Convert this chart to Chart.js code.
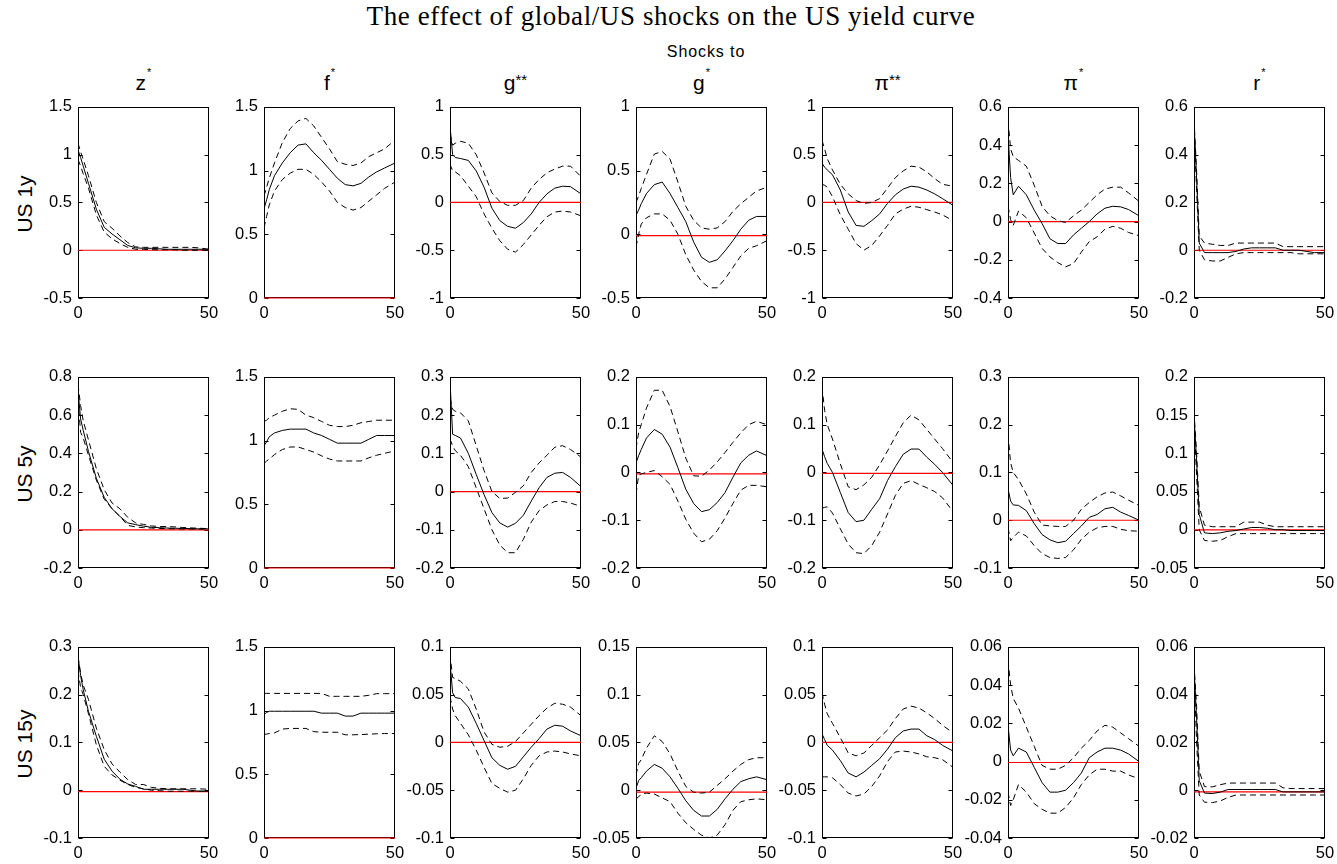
<!DOCTYPE html>
<html>
<head>
<meta charset="utf-8">
<script src="https://cdn.jsdelivr.net/npm/chart.js@4.4.0/dist/chart.umd.min.js"></script>
<style>
  body { margin: 0; background: #fff; width: 1337px; height: 864px; position: relative; overflow: hidden;
         font-family: "Liberation Sans", Arial, sans-serif; color: #000; }
  canvas { position: absolute; }
  .txt { position: absolute; white-space: nowrap; line-height: 1; }
</style>
</head>
<body>
<script>
// horizon (periods after the shock) at which values were read
const horizon = [0, 1, 2, 4, 7, 10, 13, 16, 19, 22, 25, 28, 31, 34, 37, 40, 43, 46, 50];

const shockNames = ['z', 'f', 'g', 'g', 'π', 'π', 'r'];
const shockStars = ['*', '*', '**', '*', '**', '*', '*'];
const maturityNames = ['US 1y', 'US 5y', 'US 15y'];
const mainTitle = 'The effect of global/US shocks on the US yield curve';
const subTitle = 'Shocks to';

// ---- US 1y ----
const mean1y = [
  [1.05, 0.97, 0.88, 0.70, 0.43, 0.24, 0.17, 0.11, 0.05, 0.025, 0.02, 0.02, 0.015, 0.01, 0.01, 0.01, 0.01, 0.01, 0.01],
  [0.70, 0.77, 0.85, 0.96, 1.06, 1.14, 1.20, 1.21, 1.14, 1.08, 1.01, 0.94, 0.89, 0.88, 0.90, 0.95, 0.99, 1.02, 1.06],
  [0.80, 0.50, 0.47, 0.46, 0.44, 0.33, 0.16, -0.06, -0.19, -0.25, -0.27, -0.21, -0.12, 0.00, 0.09, 0.15, 0.17, 0.165, 0.09],
  [0.15, 0.19, 0.24, 0.32, 0.39, 0.41, 0.32, 0.21, 0.10, -0.06, -0.18, -0.22, -0.20, -0.13, -0.05, 0.04, 0.11, 0.14, 0.14],
  [0.41, 0.37, 0.34, 0.29, 0.13, -0.10, -0.24, -0.25, -0.19, -0.12, -0.01, 0.08, 0.14, 0.17, 0.16, 0.13, 0.09, 0.04, -0.03],
  [0.46, 0.23, 0.14, 0.185, 0.14, 0.06, -0.01, -0.09, -0.115, -0.115, -0.07, -0.035, 0.0, 0.04, 0.07, 0.08, 0.077, 0.063, 0.03],
  [0.54, 0.30, 0.03, -0.01, -0.01, -0.01, -0.01, -0.005, 0.005, 0.01, 0.01, 0.01, 0.01, 0.0, 0.0, 0.0, -0.005, -0.01, -0.01]
];
const upper1y = [
  [1.12, 1.03, 0.95, 0.78, 0.50, 0.30, 0.23, 0.15, 0.08, 0.035, 0.03, 0.03, 0.03, 0.03, 0.03, 0.03, 0.03, 0.025, 0.01],
  [0.80, 0.87, 0.94, 1.06, 1.22, 1.33, 1.39, 1.41, 1.35, 1.26, 1.17, 1.07, 1.05, 1.04, 1.06, 1.11, 1.14, 1.17, 1.24],
  [0.72, 0.60, 0.62, 0.64, 0.62, 0.50, 0.31, 0.10, 0.01, -0.03, -0.03, 0.02, 0.15, 0.24, 0.31, 0.35, 0.38, 0.38, 0.27],
  [0.25, 0.30, 0.36, 0.47, 0.63, 0.65, 0.59, 0.41, 0.22, 0.11, 0.05, 0.04, 0.05, 0.10, 0.18, 0.24, 0.29, 0.34, 0.37],
  [0.65, 0.56, 0.46, 0.34, 0.19, 0.09, 0.02, -0.01, 0.0, 0.04, 0.15, 0.26, 0.33, 0.38, 0.37, 0.32, 0.25, 0.19, 0.17],
  [0.53, 0.38, 0.34, 0.32, 0.29, 0.19, 0.08, 0.03, 0.005, -0.005, 0.03, 0.06, 0.10, 0.14, 0.17, 0.18, 0.18, 0.15, 0.106],
  [0.55, 0.33, 0.06, 0.03, 0.025, 0.02, 0.02, 0.03, 0.03, 0.03, 0.03, 0.03, 0.03, 0.015, 0.015, 0.015, 0.015, 0.015, 0.015]
];
const lower1y = [
  [0.95, 0.88, 0.80, 0.65, 0.37, 0.19, 0.12, 0.07, 0.03, 0.01, 0.01, 0.005, 0.005, 0.005, 0.005, 0.0, 0.0, 0.0, 0.0],
  [0.55, 0.64, 0.73, 0.84, 0.93, 0.98, 1.01, 1.01, 0.97, 0.91, 0.84, 0.75, 0.71, 0.69, 0.71, 0.76, 0.81, 0.86, 0.91],
  [0.40, 0.33, 0.32, 0.28, 0.17, 0.06, -0.12, -0.27, -0.40, -0.49, -0.52, -0.44, -0.34, -0.24, -0.15, -0.10, -0.09, -0.10, -0.14],
  [-0.10, 0.0, 0.08, 0.13, 0.16, 0.16, 0.11, 0.0, -0.16, -0.28, -0.37, -0.42, -0.42, -0.35, -0.26, -0.17, -0.11, -0.09, -0.05],
  [0.19, 0.18, 0.16, 0.06, -0.13, -0.28, -0.43, -0.50, -0.45, -0.35, -0.24, -0.12, -0.07, -0.04, -0.05, -0.075, -0.10, -0.13, -0.19],
  [0.08, 0.01, -0.02, 0.055, 0.02, -0.06, -0.14, -0.185, -0.215, -0.237, -0.22, -0.16, -0.105, -0.08, -0.04, -0.025, -0.035, -0.057, -0.074],
  [0.52, 0.25, 0.0, -0.04, -0.045, -0.045, -0.03, -0.015, -0.01, -0.01, -0.01, -0.01, -0.01, -0.01, -0.01, -0.015, -0.015, -0.015, -0.015]
];

// ---- US 5y ----
const mean5y = [
  [0.73, 0.58, 0.52, 0.41, 0.27, 0.17, 0.11, 0.07, 0.036, 0.027, 0.019, 0.013, 0.011, 0.009, 0.008, 0.007, 0.006, 0.005, 0.005],
  [0.96, 0.99, 1.03, 1.06, 1.08, 1.09, 1.09, 1.09, 1.06, 1.04, 1.01, 0.98, 0.98, 0.98, 0.98, 1.01, 1.04, 1.04, 1.04],
  [0.29, 0.15, 0.147, 0.14, 0.10, 0.045, -0.008, -0.055, -0.082, -0.093, -0.083, -0.062, -0.025, 0.01, 0.037, 0.048, 0.05, 0.037, 0.013],
  [0.02, 0.035, 0.048, 0.072, 0.09, 0.08, 0.053, 0.01, -0.035, -0.065, -0.082, -0.078, -0.063, -0.042, -0.01, 0.02, 0.036, 0.045, 0.035],
  [0.049, 0.033, 0.019, 0.0, -0.042, -0.084, -0.103, -0.10, -0.077, -0.055, -0.017, 0.012, 0.038, 0.049, 0.049, 0.032, 0.017, 0.0, -0.027],
  [0.066, 0.04, 0.032, 0.031, 0.02, -0.007, -0.03, -0.041, -0.047, -0.044, -0.028, -0.012, 0.006, 0.012, 0.024, 0.027, 0.017, 0.01, 0.0],
  [0.15, 0.09, 0.02, -0.004, -0.005, -0.004, -0.002, -0.001, 0.001, 0.003, 0.003, 0.002, 0.0, 0.0, -0.001, -0.001, -0.001, -0.001, -0.001]
];
const upper5y = [
  [0.76, 0.65, 0.57, 0.47, 0.32, 0.21, 0.14, 0.11, 0.065, 0.036, 0.028, 0.02, 0.017, 0.017, 0.015, 0.012, 0.01, 0.008, 0.006],
  [1.15, 1.16, 1.18, 1.20, 1.23, 1.25, 1.245, 1.20, 1.18, 1.15, 1.12, 1.11, 1.11, 1.12, 1.14, 1.15, 1.16, 1.16, 1.16],
  [0.245, 0.215, 0.21, 0.206, 0.185, 0.12, 0.055, 0.0, -0.018, -0.017, -0.002, 0.015, 0.05, 0.075, 0.095, 0.116, 0.12, 0.11, 0.09],
  [0.05, 0.083, 0.10, 0.135, 0.172, 0.172, 0.138, 0.085, 0.03, -0.007, -0.008, 0.005, 0.022, 0.042, 0.063, 0.083, 0.10, 0.107, 0.10],
  [0.18, 0.13, 0.10, 0.07, 0.018, -0.03, -0.036, -0.026, -0.01, 0.016, 0.045, 0.075, 0.104, 0.12, 0.11, 0.09, 0.07, 0.05, 0.021],
  [0.18, 0.12, 0.10, 0.085, 0.055, 0.017, -0.01, -0.012, -0.013, -0.013, 0.0, 0.023, 0.037, 0.049, 0.057, 0.059, 0.051, 0.042, 0.031],
  [0.155, 0.10, 0.03, 0.006, 0.004, 0.004, 0.004, 0.004, 0.01, 0.01, 0.01, 0.006, 0.004, 0.004, 0.004, 0.004, 0.004, 0.004, 0.004]
];
const lower5y = [
  [0.68, 0.51, 0.48, 0.39, 0.26, 0.16, 0.11, 0.07, 0.023, 0.015, 0.011, 0.009, 0.007, 0.006, 0.005, 0.004, 0.004, 0.004, 0.004],
  [0.82, 0.84, 0.855, 0.89, 0.93, 0.95, 0.95, 0.93, 0.91, 0.88, 0.855, 0.84, 0.84, 0.84, 0.84, 0.865, 0.885, 0.90, 0.92],
  [0.137, 0.12, 0.107, 0.095, 0.065, 0.01, -0.045, -0.10, -0.14, -0.16, -0.16, -0.125, -0.08, -0.05, -0.035, -0.026, -0.026, -0.03, -0.039],
  [-0.045, -0.006, -0.003, 0.0, 0.004, -0.009, -0.025, -0.06, -0.098, -0.127, -0.145, -0.14, -0.122, -0.095, -0.065, -0.037, -0.027, -0.027, -0.03],
  [-0.075, -0.073, -0.072, -0.085, -0.118, -0.15, -0.168, -0.17, -0.153, -0.125, -0.087, -0.048, -0.023, -0.017, -0.025, -0.032, -0.04, -0.053, -0.082],
  [-0.016, -0.043, -0.036, -0.025, -0.033, -0.053, -0.07, -0.078, -0.08, -0.078, -0.062, -0.04, -0.025, -0.016, -0.013, -0.013, -0.019, -0.022, -0.023],
  [0.145, 0.07, 0.0, -0.014, -0.015, -0.014, -0.009, -0.005, -0.005, -0.005, -0.005, -0.005, -0.005, -0.005, -0.005, -0.005, -0.005, -0.005, -0.005]
];

// ---- US 15y ----
const mean15y = [
  [0.28, 0.24, 0.21, 0.165, 0.113, 0.065, 0.04, 0.023, 0.013, 0.008, 0.002, 0.002, 0.002, 0.002, 0.002, 0.002, 0.0, -0.002, -0.002],
  [0.97, 0.985, 0.995, 0.995, 0.995, 0.995, 0.995, 0.995, 0.995, 0.98, 0.98, 0.98, 0.957, 0.957, 0.98, 0.98, 0.98, 0.98, 0.98],
  [0.085, 0.052, 0.047, 0.046, 0.037, 0.02, 0.002, -0.016, -0.024, -0.028, -0.025, -0.015, -0.005, 0.004, 0.014, 0.018, 0.017, 0.012, 0.007],
  [0.002, 0.01, 0.013, 0.02, 0.027, 0.023, 0.014, 0.002, -0.011, -0.021, -0.027, -0.027, -0.02, -0.009, 0.001, 0.009, 0.012, 0.014, 0.011],
  [0.009, 0.003, -0.003, -0.008, -0.019, -0.032, -0.036, -0.031, -0.024, -0.017, -0.007, 0.005, 0.012, 0.014, 0.014, 0.007, 0.003, -0.003, -0.009],
  [0.019, 0.006, 0.003, 0.007, 0.005, -0.003, -0.011, -0.016, -0.016, -0.015, -0.011, -0.006, 0.002, 0.005, 0.007, 0.007, 0.006, 0.004, 0.0],
  [0.052, 0.03, 0.004, -0.0012, -0.0014, -0.0008, 0.0003, 0.0003, 0.0003, 0.0003, 0.0003, 0.0003, 0.0003, -0.0007, -0.0007, -0.0007, -0.0007, -0.0007, -0.0007]
];
const upper15y = [
  [0.28, 0.245, 0.22, 0.19, 0.13, 0.085, 0.055, 0.038, 0.022, 0.012, 0.012, 0.006, 0.004, 0.003, 0.003, 0.003, 0.003, 0.003, 0.002],
  [1.135, 1.135, 1.135, 1.135, 1.135, 1.135, 1.135, 1.135, 1.135, 1.135, 1.112, 1.112, 1.112, 1.112, 1.112, 1.12, 1.133, 1.133, 1.133],
  [0.093, 0.068, 0.067, 0.064, 0.056, 0.035, 0.011, -0.002, -0.005, -0.004, 0.001, 0.01, 0.019, 0.028, 0.036, 0.041, 0.04, 0.037, 0.028],
  [0.016, 0.028, 0.032, 0.044, 0.057, 0.051, 0.038, 0.02, 0.004, -0.002, -0.003, -0.002, 0.005, 0.012, 0.02, 0.027, 0.032, 0.034, 0.034],
  [0.052, 0.04, 0.03, 0.02, 0.005, -0.011, -0.014, -0.011, -0.003, 0.005, 0.013, 0.025, 0.035, 0.038, 0.036, 0.031, 0.025, 0.018, 0.01],
  [0.053, 0.04, 0.033, 0.028, 0.018, 0.008, -0.002, -0.004, -0.004, -0.002, 0.002, 0.007, 0.011, 0.016, 0.019, 0.018, 0.015, 0.012, 0.008],
  [0.053, 0.035, 0.008, 0.0015, 0.0014, 0.0023, 0.003, 0.003, 0.003, 0.003, 0.003, 0.003, 0.003, 0.001, 0.0007, 0.0007, 0.0007, 0.0007, 0.0007]
];
const lower15y = [
  [0.25, 0.215, 0.20, 0.16, 0.095, 0.05, 0.032, 0.021, 0.012, 0.006, 0.003, 0.0, -0.001, -0.002, -0.002, -0.002, -0.002, -0.002, -0.002],
  [0.815, 0.815, 0.82, 0.825, 0.855, 0.86, 0.86, 0.86, 0.835, 0.83, 0.83, 0.83, 0.81, 0.81, 0.812, 0.815, 0.818, 0.82, 0.82],
  [0.048, 0.035, 0.028, 0.02, 0.008, -0.008, -0.026, -0.043, -0.048, -0.052, -0.05, -0.038, -0.024, -0.014, -0.01, -0.009, -0.01, -0.012, -0.014],
  [-0.009, -0.007, -0.004, -0.003, -0.004, -0.008, -0.012, -0.024, -0.034, -0.041, -0.047, -0.05, -0.047, -0.036, -0.021, -0.012, -0.01, -0.009, -0.01],
  [-0.036, -0.036, -0.036, -0.037, -0.044, -0.053, -0.056, -0.054, -0.046, -0.035, -0.02, -0.01, -0.009, -0.01, -0.012, -0.015, -0.016, -0.018, -0.026],
  [-0.016, -0.023, -0.02, -0.012, -0.016, -0.022, -0.025, -0.027, -0.027, -0.024, -0.019, -0.012, -0.007, -0.004, -0.004, -0.005, -0.005, -0.007, -0.009],
  [0.05, 0.02, -0.002, -0.005, -0.0052, -0.0045, -0.003, -0.002, -0.002, -0.002, -0.002, -0.002, -0.002, -0.002, -0.002, -0.002, -0.002, -0.002, -0.002]
];

// level of the red reference line in each panel (rows: 1y, 5y, 15y)
const redLevel = [
  [0, 0, 0, -0.01, 0, 0, 0],
  [0, 0, 0, -0.003, -0.002, 0, 0],
  [-0.003, 0, 0, -0.002, 0, -0.0005, -0.0007]
];

// y-axis limits and tick steps (rows: 1y, 5y, 15y)
const yMin  = [[-0.5, 0, -1, -0.5, -1, -0.4, -0.2], [-0.2, 0, -0.2, -0.2, -0.2, -0.1, -0.05], [-0.1, 0, -0.1, -0.05, -0.1, -0.04, -0.02]];
const yMax  = [[1.5, 1.5, 1, 1, 1, 0.6, 0.6], [0.8, 1.5, 0.3, 0.2, 0.2, 0.3, 0.2], [0.3, 1.5, 0.1, 0.15, 0.1, 0.06, 0.06]];
const yStep = [[0.5, 0.5, 0.5, 0.5, 0.5, 0.2, 0.2], [0.2, 0.5, 0.1, 0.1, 0.1, 0.1, 0.05], [0.1, 0.5, 0.05, 0.05, 0.05, 0.02, 0.02]];

const meanRows = [mean1y, mean5y, mean15y];
const upperRows = [upper1y, upper5y, upper15y];
const lowerRows = [lower1y, lower5y, lower15y];

// layout
const colLeft = [78, 264, 450, 636, 822, 1008, 1194];
const rowTop = [103, 373, 643];
const boxW = 131, boxH = 195;
const padL = 52, padT = 12, padR = 18, padB = 30;
const tickFont = { family: 'Liberation Sans', size: 16.5 };

function addText(html, css) {
  const d = document.createElement('div');
  d.className = 'txt';
  d.innerHTML = html;
  d.style.cssText = css;
  document.body.appendChild(d);
}

addText(mainTitle, 'left:671px;top:3px;transform:translateX(-50%);font-family:"Liberation Serif",serif;font-size:27px;letter-spacing:0.6px;');
addText(subTitle, 'left:706px;top:44px;transform:translateX(-50%);font-size:16px;letter-spacing:0.9px;');

shockNames.forEach((s, c) => {
  const star = shockStars[c] === '**'
    ? '<span style="font-size:15px;position:relative;top:-5px;">**</span>'
    : '<span style="font-size:11px;position:relative;top:-14px;margin-left:1px;">*</span>';
  addText(s + star, `left:${colLeft[c] + boxW / 2}px;top:72px;transform:translateX(-50%);font-size:21px;`);
});

maturityNames.forEach((m, r) => {
  addText(m, `left:24px;top:${rowTop[r] + boxH / 2 + 3}px;transform:translate(-50%,-50%) rotate(-90deg);font-size:21px;`);
});

// box frame with MATLAB-style inward ticks
const boxPlugin = {
  id: 'box',
  beforeDatasetsDraw(chart) {
    const { ctx, chartArea: a, scales: { y } } = chart;
    const l = Math.round(a.left) + 0.5, r = Math.round(a.right) - 0.5;
    const t = Math.round(a.top) + 0.5, b = Math.round(a.bottom) - 0.5;
    ctx.save();
    ctx.strokeStyle = '#000';
    ctx.lineWidth = 1;
    ctx.strokeRect(l, t, r - l, b - t);
    ctx.beginPath();
    y.ticks.forEach(tk => {
      const py = Math.round(y.getPixelForValue(tk.value)) + 0.5;
      ctx.moveTo(l, py); ctx.lineTo(l + 4, py);
      ctx.moveTo(r, py); ctx.lineTo(r - 4, py);
    });
    ctx.stroke();
    ctx.restore();
  }
};

const pts = vals => horizon.map((h, i) => ({ x: h, y: vals[i] }));

maturityNames.forEach((m, r) => {
  shockNames.forEach((s, c) => {
    const cv = document.createElement('canvas');
    cv.width = padL + boxW + padR;
    cv.height = padT + boxH + padB;
    cv.style.left = (colLeft[c] - padL) + 'px';
    cv.style.top = (rowTop[r] - padT) + 'px';
    document.body.appendChild(cv);

    const lvl = redLevel[r][c];
    new Chart(cv, {
      type: 'line',
      data: {
        datasets: [
          { data: pts(upperRows[r][c]), borderColor: '#000', borderWidth: 1, borderDash: [6, 4] },
          { data: pts(lowerRows[r][c]), borderColor: '#000', borderWidth: 1, borderDash: [6, 4] },
          { data: pts(meanRows[r][c]), borderColor: '#000', borderWidth: 1 },
          { data: [{ x: horizon[0], y: lvl }, { x: horizon[horizon.length - 1], y: lvl }],
            borderColor: '#ff0000', borderWidth: 1.2, clip: 2 }
        ]
      },
      options: {
        responsive: false,
        animation: false,
        devicePixelRatio: 1,
        layout: { padding: { top: padT, right: padR, left: 0, bottom: 0 } },
        elements: { point: { radius: 0 }, line: { tension: 0 } },
        plugins: { legend: { display: false }, tooltip: { enabled: false } },
        scales: {
          x: {
            type: 'linear', min: 0, max: 50,
            grid: { display: false, drawTicks: false },
            border: { display: false },
            ticks: { stepSize: 50, padding: 6, maxRotation: 0, font: tickFont, color: '#000' },
            afterFit: sc => { sc.height = padB; }
          },
          y: {
            min: yMin[r][c], max: yMax[r][c],
            grid: { display: false, drawTicks: false },
            border: { display: false },
            ticks: {
              stepSize: yStep[r][c], padding: 6, font: tickFont, color: '#000',
              callback: v => String(+Number(v).toFixed(4))
            },
            afterFit: sc => { sc.width = padL; }
          }
        }
      },
      plugins: [boxPlugin]
    });
  });
});
</script>
</body>
</html>
